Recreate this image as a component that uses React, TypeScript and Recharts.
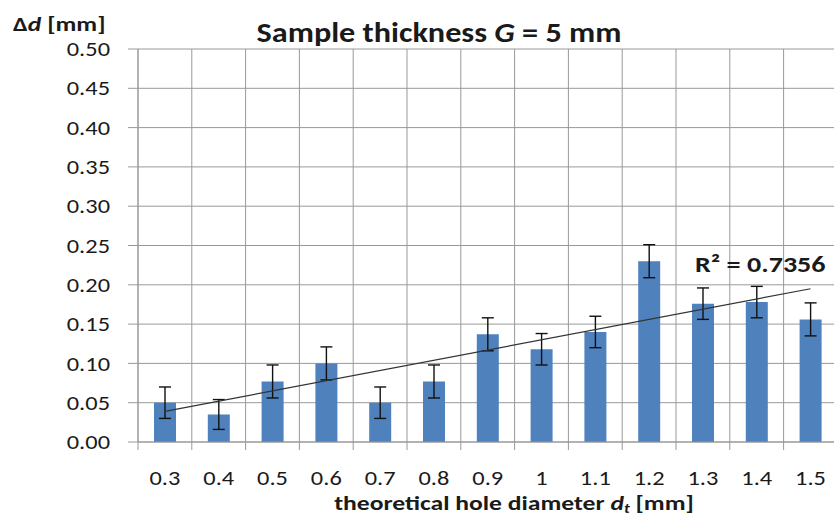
import { ComposedChart, Bar, Line, XAxis, YAxis, CartesianGrid, ErrorBar } from "recharts";

// theoretical hole diameter d_t [mm]
const diameters = ["0.3", "0.4", "0.5", "0.6", "0.7", "0.8", "0.9", "1", "1.1", "1.2", "1.3", "1.4", "1.5"];
// mean deviation Δd [mm]
const deltaD = [0.05, 0.035, 0.077, 0.1, 0.05, 0.077, 0.137, 0.118, 0.14, 0.23, 0.176, 0.178, 0.156];
// error bar half-length [mm]
const errors = [0.02, 0.019, 0.021, 0.021, 0.02, 0.021, 0.021, 0.02, 0.02, 0.021, 0.02, 0.02, 0.021];
// linear trendline, read at its two ends
const trend = [0.039, null, null, null, null, null, null, null, null, null, null, null, 0.195];
const yTicks = [0, 0.05, 0.1, 0.15, 0.2, 0.25, 0.3, 0.35, 0.4, 0.45, 0.5];

const data = diameters.map((d, i) => ({ d, value: deltaD[i], err: errors[i], trend: trend[i] }));

const FONT = "Carlito, Lato, 'Open Sans', sans-serif";
const GRID = "#999999";
const TEXT = "#1a1a1a";
const SX = 1.22; // the original text is a bit wider than Lato
const X_TICK_SIZE = 8;
const X_TICK_MARGIN = 21;

const XTick = (props: any) => {
  const { x, y, payload } = props;
  const half = payload.offset ?? 26.9;
  const axisY = y - X_TICK_SIZE - X_TICK_MARGIN;
  const last = payload.value === diameters[diameters.length - 1];
  return (
    <g>
      <line x1={x - half} x2={x - half} y1={axisY} y2={axisY + X_TICK_SIZE} stroke={GRID} />
      {last && <line x1={x + half} x2={x + half} y1={axisY} y2={axisY + X_TICK_SIZE} stroke={GRID} />}
      <text transform={`translate(${x},${y}) scale(${SX},1)`} dy="0.71em" textAnchor="middle" fontSize={20} fontFamily={FONT} fill={TEXT}>
        {payload.value}
      </text>
    </g>
  );
};

const YTick = (props: any) => {
  const { x, y, payload } = props;
  return (
    <text transform={`translate(${x},${y}) scale(${SX},1)`} dy="0.355em" textAnchor="end" fontSize={20} fontFamily={FONT} fill={TEXT}>
      {Number(payload.value).toFixed(2)}
    </text>
  );
};

const label = { position: "absolute" as const, fontWeight: 700, lineHeight: 1, whiteSpace: "nowrap" as const };

export default function App() {
  return (
    <div style={{ position: "absolute", left: 0, top: 0, width: 834, height: 517, overflow: "hidden", background: "#fff", fontFamily: FONT, color: TEXT }}>
      <ComposedChart width={850} height={517} data={data} margin={{ top: 49, right: 12.6, bottom: 35, left: 0 }}>
        <CartesianGrid
          stroke={GRID}
          verticalCoordinatesGenerator={({ offset }: any) =>
            Array.from({ length: diameters.length + 1 }, (_, i) => offset.left + (i * offset.width) / diameters.length)
          }
        />
        <XAxis
          dataKey="d"
          height={40}
          axisLine={{ stroke: GRID }}
          tickLine={false}
          tickSize={X_TICK_SIZE}
          tickMargin={X_TICK_MARGIN}
          tick={<XTick />}
          interval={0}
        />
        <YAxis
          width={138}
          domain={[0, 0.5]}
          ticks={yTicks}
          interval={0}
          axisLine={{ stroke: GRID }}
          tickLine={{ stroke: GRID }}
          tickSize={10}
          tickMargin={18}
          tick={<YTick />}
        />
        <Bar dataKey="value" fill="#4f81bd" barSize={22} isAnimationActive={false}>
          <ErrorBar dataKey="err" width={6} stroke="#111" strokeWidth={1.4} direction="y" />
        </Bar>
        <Line
          dataKey="trend"
          stroke="#333"
          strokeWidth={1.2}
          dot={false}
          activeDot={false}
          connectNulls
          isAnimationActive={false}
        />
      </ComposedChart>

      <div style={{ ...label, left: 13, top: 14, fontSize: 21, transform: `scaleX(${SX})`, transformOrigin: "left" }}>
        Δ<i>d</i> [mm]
      </div>
      <div style={{ ...label, left: 0, width: 878, top: 18.5, textAlign: "center", fontSize: 28, transform: "scaleX(1.15)", transformOrigin: "center" }}>
        Sample thickness <i>G</i> = 5 mm
      </div>
      <div style={{ ...label, left: 695, top: 253, fontSize: 23, transform: `scaleX(${SX})`, transformOrigin: "left" }}>
        R² = 0.7356
      </div>
      <div style={{ ...label, left: 0, width: 1028, top: 493, textAlign: "center", fontSize: 21, transform: `scaleX(${SX})`, transformOrigin: "center" }}>
        theoretical hole diameter <i>d<sub style={{ fontSize: "0.65em", verticalAlign: "-0.2em", lineHeight: 0 }}>t</sub></i> [mm]
      </div>
    </div>
  );
}
